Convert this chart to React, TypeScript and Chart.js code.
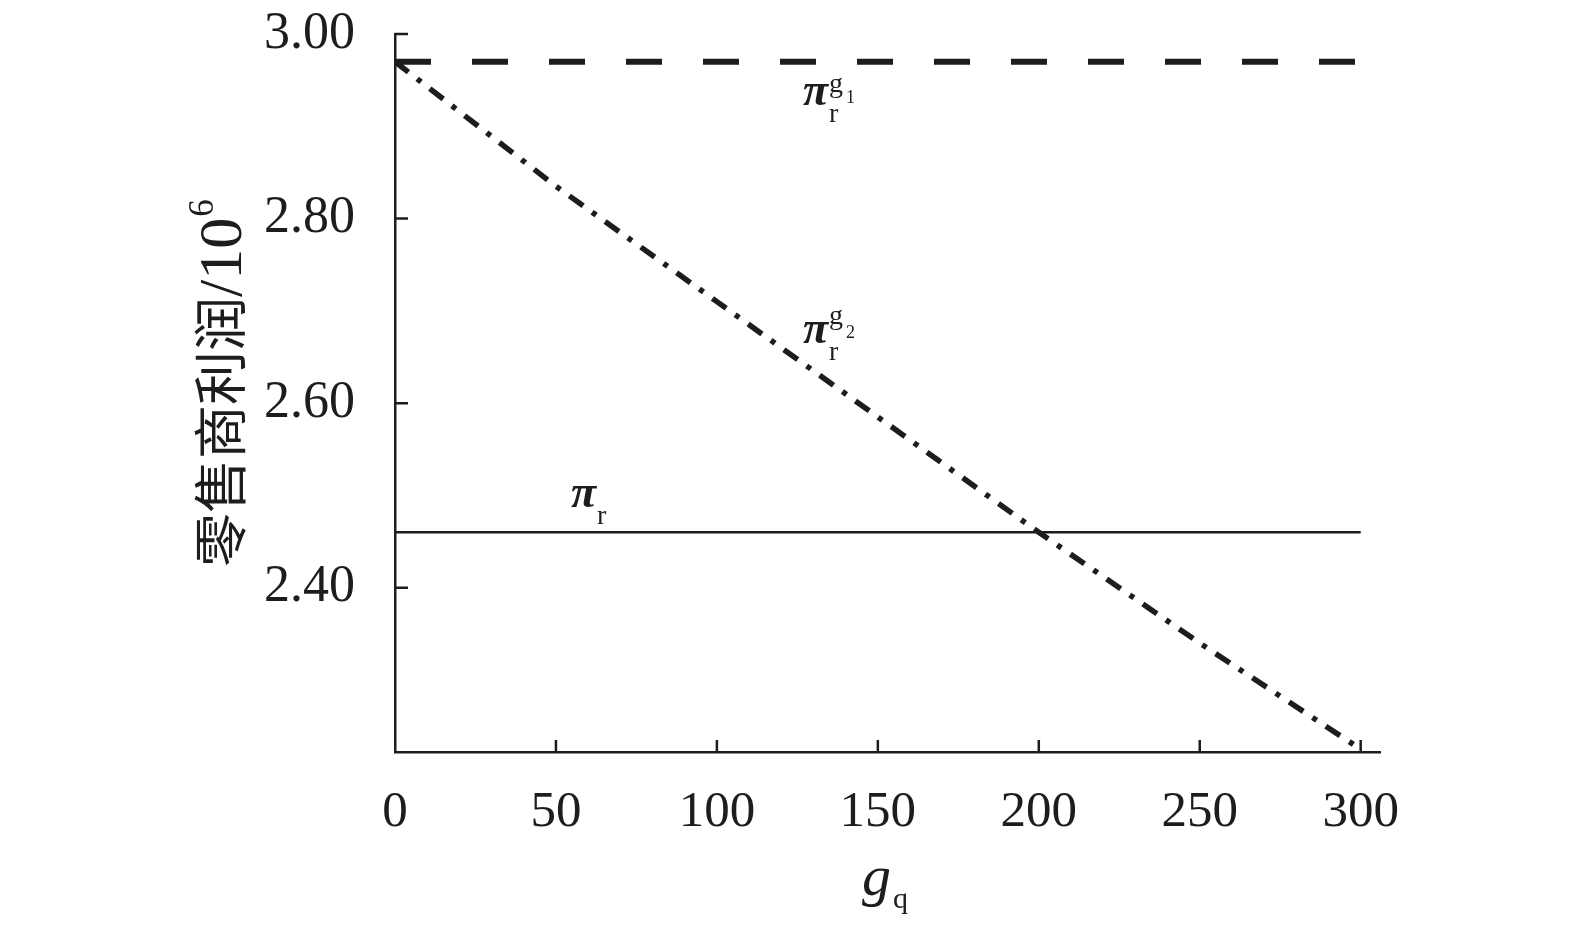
import React, { useEffect, useRef } from "react";
import { Chart, registerables } from "chart.js";

Chart.register(...registerables);

const gq = [0, 50, 100, 150, 200, 250, 300];
const piG2 = [2.97, 2.835, 2.71, 2.585, 2.46, 2.34, 2.225];
const piG1 = [2.97, 2.97, 2.97, 2.97, 2.97, 2.97, 2.97];
const piR = [2.46, 2.46, 2.46, 2.46, 2.46, 2.46, 2.46];
const xTicks = [0, 50, 100, 150, 200, 250, 300];
const yTicks = [2.4, 2.6, 2.8, 3.0];

const INK = "#1d1d1b";
const SERIF = "'Liberation Serif', 'Times New Roman', serif";
const CJK = "'Noto Sans CJK SC', sans-serif";

function toPts(ys: number[]) {
  return gq.map((x, i) => ({ x, y: ys[i] }));
}

function drawPi(
  ctx: CanvasRenderingContext2D,
  x: number,
  base: number,
  supIdx: string | null,
  gUp = 0,
  idxUp = 0
) {
  ctx.save();
  ctx.fillStyle = INK;
  ctx.textAlign = "left";
  ctx.textBaseline = "alphabetic";
  ctx.font = `italic bold 46px ${SERIF}`;
  ctx.fillText("π", x, base);
  const w = ctx.measureText("π").width;
  ctx.font = `28px ${SERIF}`;
  ctx.fillText("r", x + w + 1, base + 17);
  if (supIdx) {
    ctx.font = `28px ${SERIF}`;
    ctx.fillText("g", x + w + 1, base - gUp);
    const gw = ctx.measureText("g").width;
    ctx.font = `18px ${SERIF}`;
    ctx.fillText(supIdx, x + w + gw + 4, base - idxUp);
  }
  ctx.restore();
}

const overlay = {
  id: "overlay",
  afterDraw(chart: any) {
    const ctx: CanvasRenderingContext2D = chart.ctx;
    const { left, bottom } = chart.chartArea;
    const xs = chart.scales.x;
    const ys = chart.scales.y;
    ctx.save();
    ctx.strokeStyle = INK;
    ctx.lineWidth = 2.5;
    ctx.beginPath();
    xTicks.forEach((v) => {
      if (v === 0) return;
      const px = xs.getPixelForValue(v);
      ctx.moveTo(px, bottom);
      ctx.lineTo(px, bottom - 12);
    });
    yTicks.forEach((v) => {
      const py = ys.getPixelForValue(v);
      ctx.moveTo(left, py);
      ctx.lineTo(left + 13, py);
    });
    ctx.stroke();

    // y title
    ctx.save();
    ctx.translate(220, 567);
    ctx.rotate(-Math.PI / 2);
    ctx.fillStyle = INK;
    ctx.textAlign = "left";
    ctx.textBaseline = "middle";
    ctx.font = `54px ${CJK}`;
    const cjk = "零售商利润";
    ctx.fillText(cjk, 0, 0);
    let off = ctx.measureText(cjk).width;
    ctx.textBaseline = "alphabetic";
    ctx.font = `62px ${SERIF}`;
    ctx.fillText("/10", off, 21);
    off += ctx.measureText("/10").width;
    ctx.font = `35px ${SERIF}`;
    ctx.fillText("6", off + 1, -7);
    ctx.restore();

    // x title
    ctx.fillStyle = INK;
    ctx.textAlign = "left";
    ctx.textBaseline = "alphabetic";
    ctx.font = `italic 58px ${SERIF}`;
    ctx.fillText("g", 862, 895);
    const gw = ctx.measureText("g").width;
    ctx.font = `30px ${SERIF}`;
    ctx.fillText("q", 862 + gw + 2, 908);

    drawPi(ctx, 803, 105, "1", 13, 2);
    drawPi(ctx, 803, 343, "2", 19, 5);
    drawPi(ctx, 571, 507, null);
    ctx.restore();
  },
};

export default function App() {
  const ref = useRef<HTMLCanvasElement | null>(null);
  useEffect(() => {
    if (!ref.current) return;
    const chart = new Chart(ref.current, {
      type: "line",
      data: {
        datasets: [
          {
            label: "piG1",
            data: toPts(piG1),
            borderColor: INK,
            borderWidth: 6,
            borderDash: [36, 41],
            borderCapStyle: "butt",
            pointRadius: 0,
            fill: false,
          },
          {
            label: "piG2",
            data: toPts(piG2),
            borderColor: INK,
            borderWidth: 5.5,
            borderDash: [17, 11, 5, 11],
            borderCapStyle: "butt",
            pointRadius: 0,
            fill: false,
            tension: 0,
          },
          {
            label: "piR",
            data: toPts(piR),
            borderColor: INK,
            borderWidth: 2.5,
            pointRadius: 0,
            fill: false,
          },
        ],
      },
      options: {
        responsive: false,
        animation: false,
        events: [],
        layout: { padding: { top: 34, right: 195, left: 0, bottom: 0 } },
        plugins: {
          legend: { display: false },
          tooltip: { enabled: false },
          title: { display: false },
        },
        scales: {
          x: {
            type: "linear",
            min: 0,
            max: 306,
            afterBuildTicks: (s: any) => {
              s.ticks = xTicks.map((v) => ({ value: v }));
            },
            afterFit: (s: any) => {
              s.height = 173;
            },
            grid: { display: false, drawTicks: false },
            border: { display: true, color: INK, width: 2.5 },
            ticks: {
              color: INK,
              font: { family: SERIF, size: 51 },
              padding: 30,
              maxRotation: 0,
              autoSkip: false,
            },
          },
          y: {
            type: "linear",
            min: 2.222,
            max: 3.0,
            afterBuildTicks: (s: any) => {
              s.ticks = yTicks.map((v) => ({ value: v }));
            },
            afterFit: (s: any) => {
              s.width = 395;
              s.paddingTop = 0;
              s.paddingBottom = 0;
            },
            grid: { display: false, drawTicks: false },
            border: { display: true, color: INK, width: 2.5 },
            ticks: {
              color: INK,
              font: { family: SERIF, size: 52 },
              padding: 40,
              callback: (v: any) => Number(v).toFixed(2),
            },
          },
        },
      },
      plugins: [overlay],
    });
    return () => chart.destroy();
  }, []);
  return (
    <div style={{ position: "absolute", left: 0, top: 0, width: 1575, height: 925, background: "#fff" }}>
      <canvas ref={ref} width={1575} height={925} style={{ display: "block" }} />
    </div>
  );
}
